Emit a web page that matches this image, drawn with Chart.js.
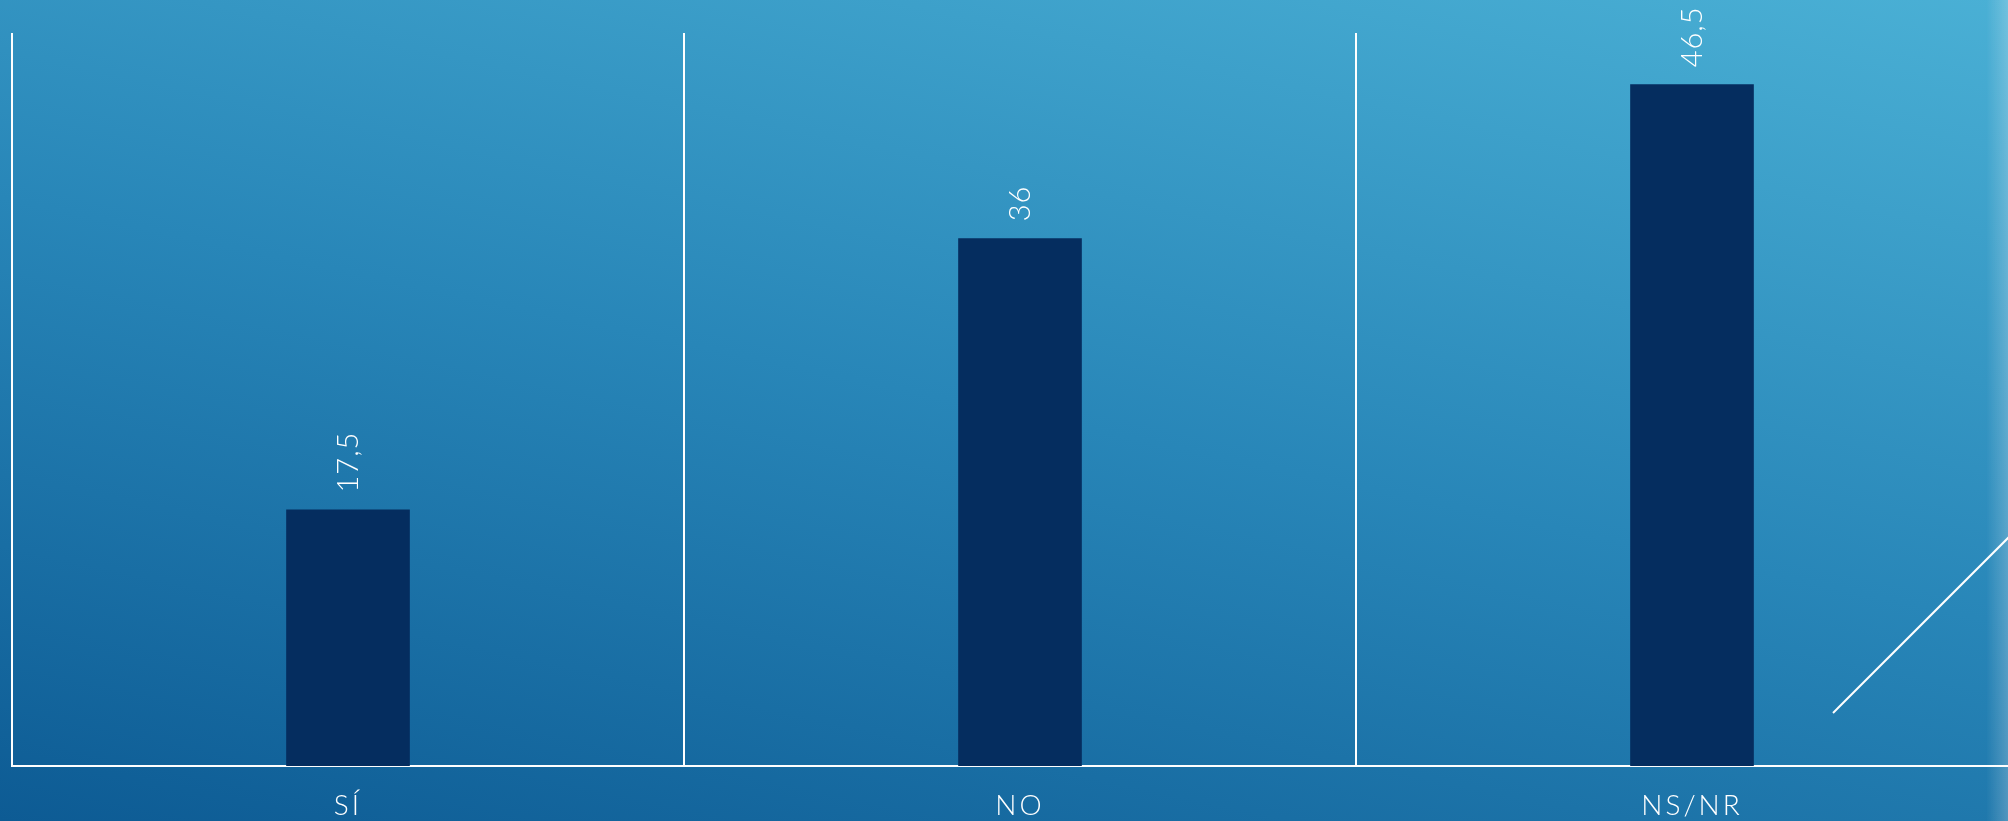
<!DOCTYPE html>
<html>
<head>
<meta charset="utf-8">
<script src="https://cdn.jsdelivr.net/npm/chart.js@4"></script>
<style>
  html, body { margin: 0; padding: 0; width: 2008px; height: 821px; overflow: hidden; }
  body { background: linear-gradient(12deg, #0d5b94 0%, #2886b8 50%, #4ab0d5 100%); position: relative; }
  #wrap { position: absolute; left: 0; top: 0; width: 2040px; height: 821px; }
  .edge { position: absolute; right: 0; top: 0; width: 22px; height: 821px;
          background: linear-gradient(to right, rgba(255,255,255,0), rgba(255,255,255,0.22)); }
  svg.deco { position: absolute; left: 0; top: 0; }
</style>
</head>
<body>
<div id="wrap"><canvas id="pollChart"></canvas></div>
<svg class="deco" width="2008" height="821"><line x1="1833" y1="713" x2="2030" y2="516" stroke="#ffffff" stroke-width="2"/></svg>
<div class="edge"></div>
<script>
// ---- data ----
const categories = ['SÍ', 'NO', 'NS/NR'];
const values = [17.5, 36, 46.5];
const yMax = 50;

const FONT = "'Lato', 'Open Sans', sans-serif";

// rotated value labels above each bar
const barLabels = {
    id: 'barLabels',
    beforeDraw(chart) {
        chart.ctx.letterSpacing = '3px';
    },
    afterDatasetsDraw(chart) {
        const ctx = chart.ctx;
        const meta = chart.getDatasetMeta(0);
        ctx.save();
        ctx.letterSpacing = '1px';
        ctx.fillStyle = '#ffffff';
        ctx.font = '300 29px ' + FONT;
        ctx.textAlign = 'left';
        ctx.textBaseline = 'middle';
        meta.data.forEach((bar, i) => {
            ctx.save();
            ctx.translate(bar.x + 1, bar.y - 17);
            ctx.rotate(-Math.PI / 2);
            ctx.fillText(String(values[i]).replace('.', ','), 0, 0);
            ctx.restore();
        });
        ctx.restore();
    }
};

const ctx = document.getElementById('pollChart');
new Chart(ctx, {
    type: 'bar',
    data: {
        labels: categories,
        datasets: [{
            data: values,
            backgroundColor: '#052d5f',
            borderWidth: 0,
            barPercentage: 0.184,
            categoryPercentage: 1
        }]
    },
    options: {
        responsive: true,
        maintainAspectRatio: false,
        animation: false,
        layout: { padding: { left: 12, right: 12, top: 33, bottom: 0 } },
        plugins: {
            legend: { display: false },
            tooltip: { enabled: false }
        },
        scales: {
            x: {
                grid: { display: true, offset: true, color: '#ffffff', lineWidth: 2, drawTicks: false },
                border: { display: true, color: '#ffffff', width: 2 },
                ticks: { color: '#ffffff', font: { family: FONT, size: 28, weight: 300 }, padding: 23 },
                afterFit: s => { s.height = 55; }
            },
            y: {
                display: false,
                min: 0,
                max: yMax
            }
        }
    },
    plugins: [barLabels]
});
</script>
</body>
</html>
